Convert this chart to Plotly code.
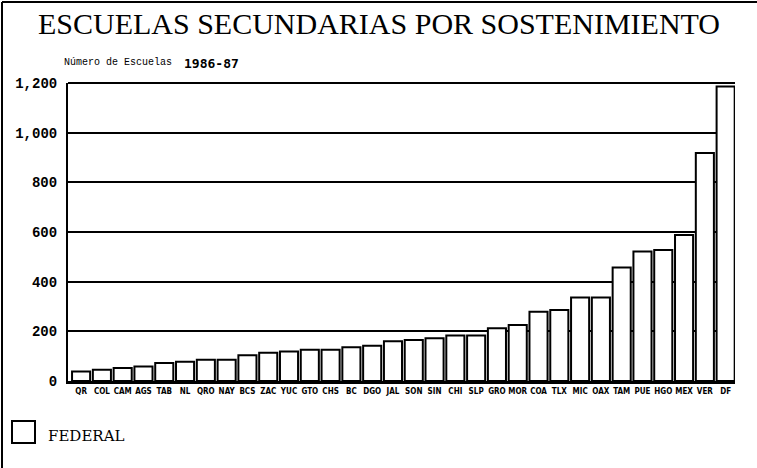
import plotly.graph_objects as go

categories = ["QR", "COL", "CAM", "AGS", "TAB", "NL", "QRO", "NAY", "BCS", "ZAC",
              "YUC", "GTO", "CHS", "BC", "DGO", "JAL", "SON", "SIN", "CHI", "SLP",
              "GRO", "MOR", "COA", "TLX", "MIC", "OAX", "TAM", "PUE", "HGO", "MEX",
              "VER", "DF"]
federal = [38, 45, 52, 58, 72, 78, 86, 86, 104, 114,
           119, 126, 126, 136, 142, 160, 165, 172, 183, 183,
           212, 226, 279, 286, 336, 336, 457, 521, 528, 588,
           918, 1186]
series_name = "FEDERAL"
y_ticks = [0, 200, 400, 600, 800, 1000, 1200]
title_text = "ESCUELAS SECUNDARIAS POR SOSTENIMIENTO"
subtitle_text = "Número de Escuelas"
period_text = "1986-87"

# plot-area geometry in pixels (for placing page decorations)
L, R, T, B = 68, 735, 83, 381
W, H = 757, 468


def px(x):
    return (x - L) / (R - L)


def py(y):
    return (B - y) / (B - T)


fig = go.Figure()
fig.add_trace(go.Bar(
    x=categories, y=federal, name=series_name,
    marker=dict(color="white", line=dict(color="black", width=2)),
    showlegend=False,
))

fig.update_layout(
    width=W, height=H,
    margin=dict(l=L, r=W - R, t=T, b=H - B),
    paper_bgcolor="white", plot_bgcolor="white",
    bargap=0.13,
    xaxis=dict(
        range=[-0.63, 31.45], showgrid=False, ticks="",
        showline=True, linecolor="black", linewidth=3,
        tickfont=dict(family="DejaVu Sans Condensed", size=8, color="black", weight="bold"),
        tickangle=0, fixedrange=True,
    ),
    yaxis=dict(
        range=[0, 1200], tickvals=y_ticks, tickformat=",",
        showgrid=True, gridcolor="black", gridwidth=2,
        showline=True, linecolor="black", linewidth=2, zeroline=False,
        ticks="", ticklabelstandoff=6,
        tickfont=dict(family="Liberation Mono", size=14, color="black", weight="bold"),
    ),
    font=dict(color="black"),
)

annotations = [
    dict(text=title_text, x=px(379), y=py(23), xref="paper", yref="paper",
         showarrow=False, xanchor="center", yanchor="middle",
         font=dict(family="Liberation Serif", size=30, color="black")),
    dict(text=subtitle_text, x=px(62), y=py(62), xref="paper", yref="paper",
         showarrow=False, xanchor="left", yanchor="middle",
         font=dict(family="Liberation Mono", size=10, color="black")),
    dict(text=period_text, x=px(182), y=py(63), xref="paper", yref="paper",
         showarrow=False, xanchor="left", yanchor="middle",
         font=dict(family="DejaVu Sans Mono", size=13, color="black", weight="bold")),
    dict(text=series_name, x=px(46), y=py(436), xref="paper", yref="paper",
         showarrow=False, xanchor="left", yanchor="middle",
         font=dict(family="DejaVu Serif", size=15, color="black")),
]
fig.update_layout(annotations=annotations)

shapes = [
    # legend swatch
    dict(type="rect", xref="paper", yref="paper",
         x0=px(12), x1=px(35), y0=py(443), y1=py(421),
         line=dict(color="black", width=2), fillcolor="white"),
    # top gridline at 1,200
    dict(type="line", xref="paper", yref="paper",
         x0=0, x1=1, y0=1, y1=1,
         line=dict(color="black", width=2)),
    # page frame (top and left)
    dict(type="line", xref="paper", yref="paper",
         x0=px(2), x1=px(757), y0=py(2), y1=py(2),
         line=dict(color="black", width=2)),
    dict(type="line", xref="paper", yref="paper",
         x0=px(2), x1=px(2), y0=py(2), y1=py(468),
         line=dict(color="black", width=2)),
]
fig.update_layout(shapes=shapes)

fig.write_html("out.html",
               config={"displayModeBar": False, "staticPlot": True},
               post_script="document.body.style.margin='0';document.body.style.overflow='hidden';")
